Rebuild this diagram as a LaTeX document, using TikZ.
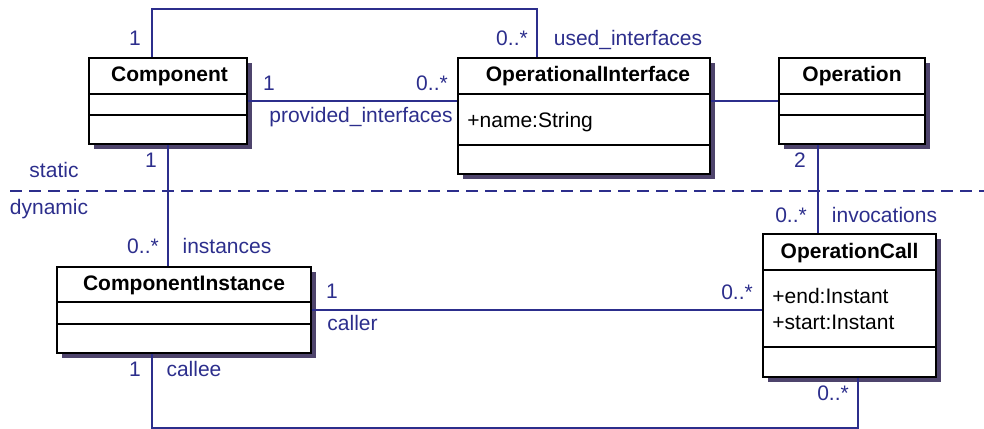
\documentclass[tikz,border=0pt]{standalone}
\usepackage{fontspec}
\setmainfont{Liberation Sans}
\usetikzlibrary{shadows}
\definecolor{assocblue}{RGB}{44,46,140}
\definecolor{shadowgray}{RGB}{78,68,108}
\newcommand{\diagfont}{\fontsize{10.5}{13}\selectfont}
\tikzset{
  classbox/.style={rectangle,draw,fill=white,line width=1pt,inner sep=0pt,
    drop shadow={shadow xshift=2.5pt,shadow yshift=-2.5pt,fill=shadowgray,opacity=1}},
  classname/.style={font=\diagfont\bfseries,anchor=base,inner sep=0pt},
  attr/.style={anchor=base west,inner sep=0pt},
  sepline/.style={line width=1pt},
  assoc/.style={assocblue,line width=0.8pt},
  role/.style={assocblue,anchor=base,inner sep=0pt}
}
\begin{document}
\begin{tikzpicture}[x=0.5pt,y=-0.5pt,font=\diagfont]

    \useasboundingbox (0,0) rectangle (984,428);

    % classes
    \node[classbox,minimum width=79pt,minimum height=43pt] (comp) at (168,101) {};
    \node[classbox,minimum width=126pt,minimum height=58pt] (oi) at (584,116) {};
    \node[classbox,minimum width=73pt,minimum height=43pt] (op) at (852,101) {};
    \node[classbox,minimum width=127pt,minimum height=43pt] (ci) at (184,310) {};
    \node[classbox,minimum width=86.5pt,minimum height=71.5pt] (oc) at (849.5,305.5) {};

    % compartments
    \foreach \n/\a/\b in {comp/18.5/29, oi/18.5/44, op/18.5/29, ci/18/29, oc/18.5/57}{
      \draw[sepline] ([yshift=-\a pt]\n.north west) -- ([yshift=-\a pt]\n.north east);
      \draw[sepline] ([yshift=-\b pt]\n.north west) -- ([yshift=-\b pt]\n.north east);
    }

    % names and attributes
    \node[classname] (comp-t) at ([xshift=0.75pt,yshift=-12pt]comp.north) {Component};
    \node[classname] (oi-t) at ([xshift=2pt,yshift=-12pt]oi.north) {OperationalInterface};
    \node[classname] (op-t) at ([yshift=-12pt]op.north) {Operation};
    \node[classname] (ci-t) at ([yshift=-12pt]ci.north) {ComponentInstance};
    \node[classname] (oc-t) at ([yshift=-12.5pt]oc.north) {OperationCall};
    \node[attr] (oi-a1) at ([xshift=5pt,yshift=-35pt]oi.north west) {+name:String};
    \node[attr] (oc-a1) at ([xshift=5pt,yshift=-35pt]oc.north west) {+end:Instant};
    \node[attr] (oc-a2) at ([xshift=5pt,yshift=-48pt]oc.north west) {+start:Instant};

    % static / dynamic
    \draw[assoc,dash pattern=on 6pt off 3.5pt] (10,191) -- (984,191);
    \node[role] (stat) at (54,177) {static};
    \node[role] (dyn) at (49,214) {dynamic};

    % associations
    \draw[assoc] % used_interfaces
      ([xshift=32pt]comp.north west) -- ++(0,24pt) -| ([xshift=40pt]oi.north west);
    \draw[assoc] % provided_interfaces
      (comp.east) -- (comp.east -| oi.west);
    \draw[assoc]
      (op.west -| oi.east) -- (op.west);
    \draw[assoc] % instances
      (comp.south) -- (comp.south |- ci.north);
    \draw[assoc] % invocations
      ([xshift=-17pt]op.south) -- ([xshift=-17pt]op.south |- oc.north);
    \draw[assoc] % caller
      (ci.east) -- (ci.east -| oc.west);
    \draw[assoc] % callee
      ([xshift=48pt]ci.south west) -- ++(0,-37pt) -| ([xshift=48pt]oc.south west);

    % multiplicities and roles
    \node[role] (m1) at (135,45) {1};
    \node[role] (m2) at (512,45) {0..*};
    \node[role] (r1) at (628,45) {used\_interfaces};
    \node[role] (m3) at (269,90) {1};
    \node[role] (m4) at (432,90) {0..*};
    \node[role] (r2) at (361,122) {provided\_interfaces};
    \node[role] (m5) at (151,167) {1};
    \node[role] (m6) at (800,167) {2};
    \node[role] (m7) at (791,222) {0..*};
    \node[role] (r3) at (884.5,222) {invocations};
    \node[role] (m8) at (143,253) {0..*};
    \node[role] (r4) at (227,253) {instances};
    \node[role] (m9) at (332,298) {1};
    \node[role] (r5) at (352.5,330) {caller};
    \node[role] (m10) at (737,299) {0..*};
    \node[role] (m11) at (135,376) {1};
    \node[role] (r6) at (194,376) {callee};
    \node[role] (m12) at (833,400) {0..*};

\end{tikzpicture}
\end{document}
